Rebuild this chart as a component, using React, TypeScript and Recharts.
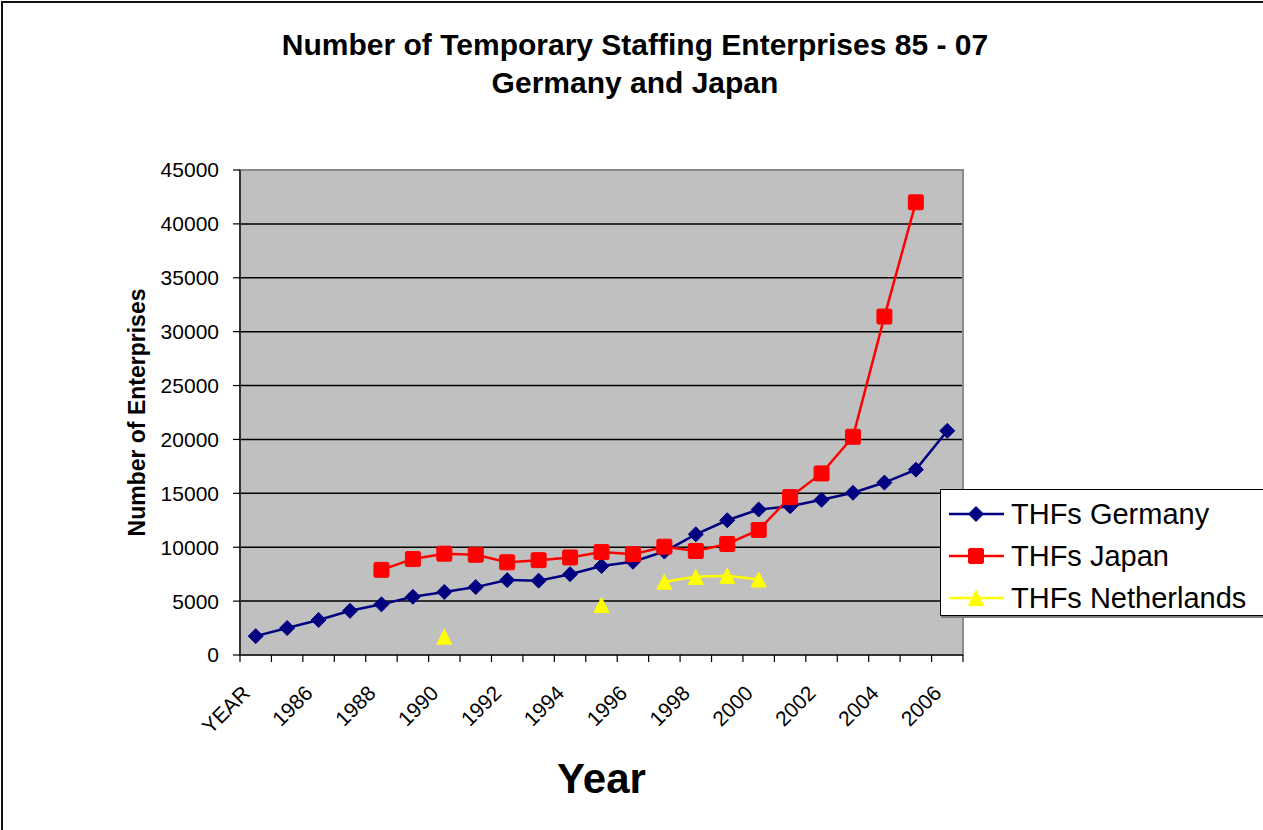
import React from 'react';
import { LineChart, Line, XAxis, YAxis, CartesianGrid, Legend, ReferenceArea, Label } from 'recharts';

const categories = ['YEAR', '1985', '1986', '1987', '1988', '1989', '1990', '1991', '1992', '1993', '1994', '1995', '1996', '1997', '1998', '1999', '2000', '2001', '2002', '2003', '2004', '2005', '2006'];
const germany = [1750, 2500, 3250, 4100, 4700, 5400, 5850, 6300, 6950, 6900, 7500, 8250, 8650, 9600, 11200, 12500, 13500, 13800, 14400, 15050, 16000, 17200, 20800];
const japan = [null, null, null, null, 7900, 8900, 9400, 9300, 8600, 8800, 9050, 9550, 9350, 10050, 9650, 10300, 11600, 14650, 16850, 20250, 31400, 42000, null];
const netherlands = [null, null, null, null, null, null, 1700, null, null, null, null, 4650, null, 6800, 7250, 7350, 7000, null, null, null, null, null, null];
const yTicks = [0, 5000, 10000, 15000, 20000, 25000, 30000, 35000, 40000, 45000];

const seriesNames = ['THFs Germany', 'THFs Japan', 'THFs Netherlands'];
const seriesKeys = ['germany', 'japan', 'netherlands'];
const seriesColors = ['#000080', '#FF0000', '#FFFF00'];
const seriesMarkers = ['diamond', 'square', 'triangle'];

const data = categories.map((c, i) => ({
  pos: i + 0.5,
  category: c,
  germany: germany[i],
  japan: japan[i],
  netherlands: netherlands[i],
}));

const boundaryTicks = categories.map((_, i) => i).concat([categories.length]);
const labelTicks = data.filter((_, i) => i % 2 === 0).map((d) => d.pos);

const FONT = '"Liberation Sans", Arial, Helvetica, sans-serif';

function Marker({ kind, cx, cy, color }: { kind: string; cx: number; cy: number; color: string }) {
  if (kind === 'diamond') {
    return <polygon points={`${cx},${cy - 7.5} ${cx + 7.5},${cy} ${cx},${cy + 7.5} ${cx - 7.5},${cy}`} fill={color} stroke={color} strokeWidth={1} />;
  }
  if (kind === 'square') {
    return <rect x={cx - 7.5} y={cy - 7.5} width={15} height={15} rx={1.5} fill={color} stroke={color} strokeWidth={1} />;
  }
  return <polygon points={`${cx},${cy - 7.5} ${cx + 7.5},${cy + 7.5} ${cx - 7.5},${cy + 7.5}`} fill={color} stroke={color} strokeWidth={1} />;
}

function makeDot(kind: string, color: string) {
  return (props: any) => {
    const { cx, cy, value, index } = props;
    if (value === null || value === undefined || cy === null || cy === undefined || isNaN(cy)) {
      return <g key={`e-${index}`} />;
    }
    return (
      <g key={`d-${index}`}>
        <Marker kind={kind} cx={cx} cy={cy} color={color} />
      </g>
    );
  };
}

function LegendBox() {
  return (
    <div
      style={{
        background: '#fff',
        border: '1px solid #000',
        boxShadow: '1px 2px 0 #808080',
        width: 330,
        height: 127,
        boxSizing: 'border-box',
        paddingTop: 3,
        fontFamily: FONT,
      }}
    >
      {seriesNames.map((name, i) => (
        <div key={name} style={{ display: 'flex', alignItems: 'center', height: 42 }}>
          <svg width={70} height={20} style={{ flex: 'none' }}>
            <line x1={8} x2={63} y1={10} y2={10} stroke={seriesColors[i]} strokeWidth={2.5} />
            <Marker kind={seriesMarkers[i]} cx={35} cy={10} color={seriesColors[i]} />
          </svg>
          <span style={{ fontSize: 29, color: '#000', whiteSpace: 'nowrap' }}>{name}</span>
        </div>
      ))}
    </div>
  );
}

export default function App() {
  return (
    <div style={{ position: 'relative', width: 1263, height: 830, overflow: 'hidden', background: '#fff' }}>
      <style>{`html,body{margin:0;padding:0;overflow:hidden;background:#fff}`}</style>
      <div
        style={{
          position: 'absolute',
          left: 1,
          top: 1,
          width: 1400,
          height: 1000,
          borderTop: '2px solid #111',
          borderLeft: '2px solid #111',
          pointerEvents: 'none',
        }}
      />
      <div
        style={{
          position: 'absolute',
          left: 0,
          top: 26,
          width: 1270,
          textAlign: 'center',
          fontFamily: FONT,
          fontWeight: 'bold',
          fontSize: 30,
          lineHeight: '38px',
          color: '#000',
        }}
      >
        <div>Number of Temporary Staffing Enterprises 85 - 07</div>
        <div>Germany and Japan</div>
      </div>
      <div style={{ position: 'absolute', left: 0, top: 0 }}>
        <LineChart
          width={1263}
          height={830}
          data={data}
          margin={{ top: 170, right: 300, bottom: 7, left: 0 }}
        >
          <CartesianGrid
            horizontal={true}
            vertical={false}
            stroke="#000"
            strokeWidth={1.5}
            fill="#C0C0C0"
            fillOpacity={1}
            xAxisId="a_main"
          />
          <ReferenceArea
            xAxisId="a_main"
            x1={0}
            x2={categories.length}
            y1={0}
            y2={45000}
            fill="none"
            stroke="#8a8a8a"
            strokeWidth={2}
            ifOverflow="visible"
          />
          <XAxis
            xAxisId="a_main"
            dataKey="pos"
            type="number"
            domain={[0, categories.length]}
            ticks={boundaryTicks}
            interval={0}
            height={8}
            tickSize={7}
            tick={() => <g />}
            tickLine={{ stroke: '#000', strokeWidth: 1.2 }}
            axisLine={{ stroke: '#333', strokeWidth: 2 }}
          />
          <XAxis
            xAxisId="b_labels"
            dataKey="pos"
            type="number"
            domain={[0, categories.length]}
            ticks={labelTicks}
            interval={0}
            height={160}
            tickSize={0}
            tickMargin={21}
            tickLine={false}
            axisLine={false}
            angle={-45}
            textAnchor="end"
            dx={-15}
            tickFormatter={(v: number) => categories[Math.floor(v)]}
            tick={{ fill: '#000', fontSize: 21, fontFamily: FONT }}
          >
            <Label
              value="Year"
              position="insideBottom"
              offset={30}
              style={{ fontSize: 42, fontWeight: 'bold', fontFamily: FONT, fill: '#000' }}
            />
          </XAxis>
          <YAxis
            width={240}
            domain={[0, 45000]}
            ticks={yTicks}
            interval={0}
            tickSize={7}
            tickMargin={14}
            tickLine={{ stroke: '#000', strokeWidth: 1.2 }}
            axisLine={{ stroke: '#333', strokeWidth: 2 }}
            tick={{ fill: '#000', fontSize: 21, fontFamily: FONT }}
          >
            <Label
              value="Number of Enterprises"
              angle={-90}
              position="center"
              dx={17}
              style={{ fontSize: 23, fontWeight: 'bold', fontFamily: FONT, fill: '#000', textAnchor: 'middle' }}
            />
          </YAxis>
          <Legend
            layout="vertical"
            align="center"
            verticalAlign="middle"
            content={() => <LegendBox />}
            wrapperStyle={{ left: 940, top: 489, width: 330, height: 127 }}
          />
          {seriesKeys.map((k, i) => (
            <Line
              key={k}
              xAxisId="a_main"
              type="linear"
              dataKey={k}
              name={seriesNames[i]}
              stroke={seriesColors[i]}
              strokeWidth={2.5}
              dot={makeDot(seriesMarkers[i], seriesColors[i])}
              activeDot={false}
              connectNulls={false}
              isAnimationActive={false}
            />
          ))}
        </LineChart>
      </div>
    </div>
  );
}
